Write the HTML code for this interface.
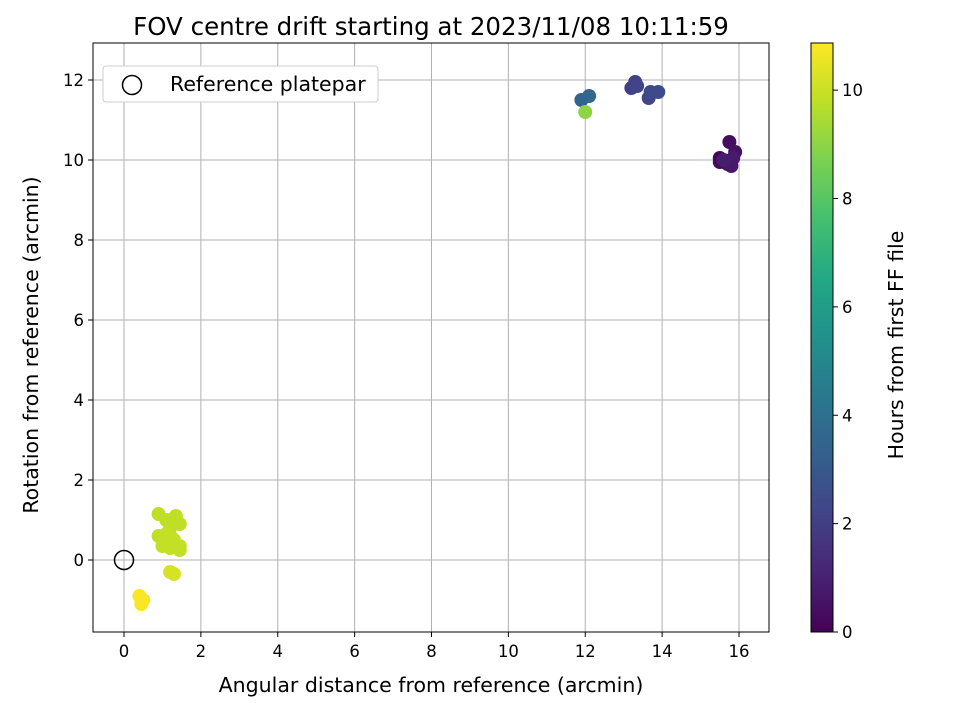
<!DOCTYPE html>
<html><head><meta charset="utf-8"><style>
body{margin:0;background:#fff;font-family:"Liberation Sans","DejaVu Sans",sans-serif}
svg text{font-family:"DejaVu Sans","Liberation Sans",sans-serif;fill:#000}
</style></head><body>
<svg id="chart" width="960" height="720" viewBox="0 0 960 720">
<defs><linearGradient id="vir" x1="0" y1="1" x2="0" y2="0">
<stop offset="0" stop-color="#440154"/><stop offset="0.1" stop-color="#482475"/><stop offset="0.2" stop-color="#414487"/><stop offset="0.3" stop-color="#355f8d"/><stop offset="0.4" stop-color="#2a788e"/><stop offset="0.5" stop-color="#21918c"/><stop offset="0.6" stop-color="#22a884"/><stop offset="0.7" stop-color="#44bf70"/><stop offset="0.8" stop-color="#7ad151"/><stop offset="0.9" stop-color="#bddf26"/><stop offset="1" stop-color="#fde725"/>
</linearGradient></defs>
<g id="grid"></g>
<g id="points"></g>
<rect x="93" y="43" width="676" height="589" fill="none" stroke="#000" stroke-width="1"/>
<g id="ticks"></g>
<text x="431" y="42" dy="-7" font-size="24.5" text-anchor="middle">FOV centre drift starting at 2023/11/08 10:11:59</text>
<text x="431" y="692" font-size="20.5" text-anchor="middle">Angular distance from reference (arcmin)</text>
<text transform="translate(38,345) rotate(-90)" font-size="20.5" text-anchor="middle">Rotation from reference (arcmin)</text>
<g>
<rect x="103" y="66" width="275" height="36" rx="3" fill="#fff" stroke="#ccc"/>
<circle cx="132" cy="85" r="9.5" fill="none" stroke="#000" stroke-width="1.5"/>
<text x="170" y="91" font-size="20.5">Reference platepar</text>
</g>
<rect x="811" y="43" width="22" height="589" fill="url(#vir)" stroke="#000"/>
<g id="cticks"></g>
<text transform="translate(903,345) rotate(-90)" font-size="20.5" text-anchor="middle">Hours from first FF file</text>
</svg>
<script>
const xTicks=[0,2,4,6,8,10,12,14,16];
const yTicks=[0,2,4,6,8,10,12];
const cTicks=[0,2,4,6,8,10];
const xs=[15.5,15.5,15.75,15.9,15.7,15.8,15.85,15.6, 13.2,13.3,13.35,13.65,13.7,13.9, 11.9,12.1, 12.0, 0.9,1.1,1.35,1.45,1.2,0.9,1.1,1.0,1.3,1.45,1.45,1.2,1.25, 1.2,1.3, 0.4,0.45,0.5];
const ys=[10.05,9.95,10.45,10.2,9.9,9.85,10.05,10.0, 11.8,11.95,11.85,11.55,11.7,11.7, 11.5,11.6, 11.2, 1.15,1.0,1.1,0.9,0.8,0.6,0.65,0.35,0.5,0.35,0.25,0.3,0.55, -0.3,-0.35, -0.9,-1.1,-1.0];
const hours=[0.2,0.3,0.4,0.5,0.6,0.7,0.8,0.9, 2.0,2.1,2.2,2.3,2.4,2.5, 3.5,3.6, 9.0, 9.8,9.8,9.8,9.8,9.8,9.8,9.9,9.9,9.9,9.9,9.9,9.9,9.9, 10.2,10.2, 10.8,10.8,10.8];
const cMax=10.87;
const X=v=>124+v*(739-124)/16, Y=v=>560-v*40, C=v=>632-v*(632-43)/cMax;
const stops=["#440154","#482475","#414487","#355f8d","#2a788e","#21918c","#22a884","#44bf70","#7ad151","#bddf26","#fde725"];
function hx(c){return [1,3,5].map(i=>parseInt(c.substr(i,2),16));}
function vir(t){t=Math.max(0,Math.min(1,t))*(stops.length-1);const i=Math.min(Math.floor(t),stops.length-2),f=t-i;const a=hx(stops[i]),b=hx(stops[i+1]);return 'rgb('+a.map((v,k)=>Math.round(v+(b[k]-v)*f)).join(',')+')';}
const NS="http://www.w3.org/2000/svg";
function mk(p,tag,at){const e=document.createElementNS(NS,tag);for(const k in at)e.setAttribute(k,at[k]);p.appendChild(e);return e;}
const g=document.getElementById('grid'),tk=document.getElementById('ticks'),pts=document.getElementById('points'),ct=document.getElementById('cticks');
xTicks.forEach(v=>{const l=mk(g,'line',{x1:X(v),x2:X(v),y1:43,y2:632,stroke:'#b0b0b0','stroke-width':1});


mk(tk,'line',{x1:X(v),x2:X(v),y1:632,y2:637,stroke:'#000'});
const t=mk(tk,'text',{x:X(v),y:657,'font-size':16.5,'text-anchor':'middle'});t.textContent=v;

});
yTicks.forEach(v=>{const l=mk(g,'line',{x1:93,x2:769,y1:Y(v),y2:Y(v),stroke:'#b0b0b0','stroke-width':1});


mk(tk,'line',{x1:88,x2:93,y1:Y(v),y2:Y(v),stroke:'#000'});
const t=mk(tk,'text',{x:84,y:Y(v)+6,'font-size':16.5,'text-anchor':'end'});t.textContent=v;

});
xs.forEach((v,i)=>{const c=mk(pts,'circle',{cx:X(v),cy:Y(ys[i]),r:7,fill:vir(hours[i]/cMax)});

});
const r=mk(pts,'circle',{cx:X(0),cy:Y(0),r:9.5,fill:'none',stroke:'#000','stroke-width':1.5});


cTicks.forEach(v=>{mk(ct,'line',{x1:833,x2:838,y1:C(v),y2:C(v),stroke:'#000'});
const t=mk(ct,'text',{x:842,y:C(v)+6,'font-size':16.5});t.textContent=v;

});
</script>
</body></html>
